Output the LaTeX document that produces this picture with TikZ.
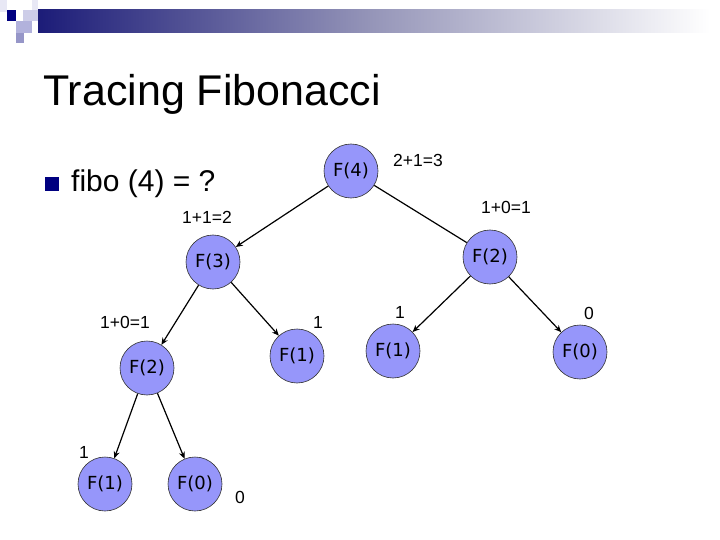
\documentclass[tikz,border=0pt]{standalone}
\usepackage{fontspec}
\setmainfont{Liberation Sans}
\newfontfamily\nodefont{DejaVu Sans}
\usetikzlibrary{arrows.meta}
\definecolor{navy}{RGB}{0,0,128}
\definecolor{barnavy}{RGB}{28,28,120}
\definecolor{barmid}{RGB}{150,150,185}
\definecolor{nodefill}{RGB}{150,150,250}
\definecolor{lav1}{RGB}{205,205,232}
\definecolor{lav2}{RGB}{178,178,220}
\definecolor{lav3}{RGB}{150,150,200}
\definecolor{lav4}{RGB}{232,232,245}
\begin{document}
\begin{tikzpicture}[x=1pt,y=-1pt,
  fnode/.style={circle,draw=black!80,line width=0.6pt,fill=nodefill,minimum size=54pt,inner sep=0pt,
    font=\nodefont\fontsize{18}{18}\selectfont},
  lbl/.style={font=\fontsize{17.5}{17.5}\selectfont,inner sep=0pt},
  edge/.style={line width=1.2pt,black},
  arr/.style={edge,-{Stealth[length=7pt,width=6pt]}}]
\useasboundingbox (0,0) rectangle (720,540);
\fill[white] (0,0) rectangle (720,540);
% header decoration
\shade[left color=barnavy,right color=white,middle color=barmid] (38,10) rectangle (710,33);
\fill[lav4] (0,0) rectangle (7,12);
\fill[navy] (7,10) rectangle (16,21);
\fill[lav1] (23,10) rectangle (38,21);
\fill[lav4] (32,0) rectangle (38,10);
\fill[lav2] (16,21) rectangle (32,33);
\fill[lav3] (16,33) rectangle (24,43);
% title
\node[anchor=base west,inner sep=0pt,font=\fontsize{43}{43}\selectfont] (title) at (43,106) {Tracing Fibonacci};
% bullet
\fill[navy] (45,177) rectangle (59,191);
\node[anchor=base west,inner sep=0pt,font=\fontsize{30}{30}\selectfont] (bullet) at (71,192) {fibo (4) = ?};
% nodes
\node[fnode] (f4) at (351,171) {F(4)};
\node[fnode] (f3) at (213,262) {F(3)};
\node[fnode] (f2r) at (490,257) {F(2)};
\node[fnode] (f2l) at (147,368) {F(2)};
\node[fnode] (f1m) at (297,356) {F(1)};
\node[fnode] (f1r) at (393,351) {F(1)};
\node[fnode] (f0r) at (580,352) {F(0)};
\node[fnode] (f1b) at (105,484) {F(1)};
\node[fnode] (f0b) at (195,484) {F(0)};
% edges
\draw[arr] (f4) -- (f3);
\draw[edge] (f4) -- (f2r);
\draw[arr] (f3) -- (f2l);
\draw[arr] (f3) -- (f1m);
\draw[arr] (f2r) -- (f1r);
\draw[arr] (f2r) -- (f0r);
\draw[arr] (f2l) -- (f1b);
\draw[arr] (f2l) -- (f0b);
% labels
\node[lbl] (l1) at (418,160) {2+1=3};
\node[lbl] (l2) at (506,207) {1+0=1};
\node[lbl] (l3) at (207,217) {1+1=2};
\node[lbl] (l4) at (125,322) {1+0=1};
\node[lbl] (l5) at (318,322) {1};
\node[lbl] (l6) at (400,312) {1};
\node[lbl] (l7) at (589,313) {0};
\node[lbl] (l8) at (84,452) {1};
\node[lbl] (l9) at (240,497) {0};
\end{tikzpicture}
\end{document}
